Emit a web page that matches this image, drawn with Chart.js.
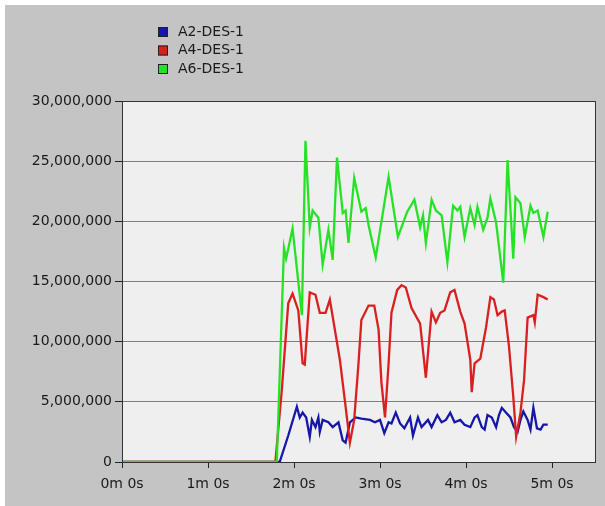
<!DOCTYPE html>
<html>
<head>
<meta charset="utf-8">
<script src="https://cdn.jsdelivr.net/npm/chart.js@4/dist/chart.umd.min.js"></script>
<style>
  html, body { margin: 0; padding: 0; background: #fff; }
  #wrap { width: 605px; height: 506px; }
</style>
</head>
<body>
<div id="wrap"><canvas id="chart" width="605" height="506"></canvas></div>
<script>
// series names
const seriesNames = ['A2-DES-1', 'A4-DES-1', 'A6-DES-1'];

// time in seconds
const a2Time = [0, 110, 116, 122, 124, 126, 128.5, 131, 132.5, 135, 137, 138, 140, 144, 147, 151, 154, 156, 159, 163, 167, 173, 176.5, 180, 183, 186, 188, 191, 194, 197, 201, 203, 206.5, 209, 213.5, 216, 220, 223, 226, 229, 232, 236, 239, 243, 246, 248, 251, 253, 255, 258, 261, 263, 265, 268, 271, 273.5, 276, 278, 280, 283, 285, 287, 289.5, 292, 294, 297];
const a2Vals = [0, 0, 2200000, 4600000, 3700000, 4100000, 3700000, 2100000, 3500000, 2900000, 3700000, 2500000, 3500000, 3300000, 2900000, 3300000, 1800000, 1600000, 3300000, 3700000, 3600000, 3500000, 3300000, 3500000, 2400000, 3300000, 3200000, 4100000, 3200000, 2800000, 3700000, 2200000, 3700000, 2900000, 3500000, 2900000, 3900000, 3300000, 3500000, 4100000, 3300000, 3500000, 3100000, 2900000, 3700000, 3900000, 2900000, 2700000, 3900000, 3700000, 2900000, 3900000, 4500000, 4100000, 3700000, 2900000, 2500000, 3500000, 4200000, 3500000, 2700000, 4500000, 2800000, 2700000, 3100000, 3100000];

const a4Time = [0, 107, 111.5, 116, 119, 123, 126, 127.5, 131, 135, 138, 142, 145, 152, 156, 159, 162, 165, 167, 172, 176, 179, 181, 183.5, 186, 188, 192, 195, 198, 202, 208, 212, 216, 219, 222, 225, 229, 232, 236, 239, 243, 244, 246, 250, 254, 257, 259.5, 262, 265, 267, 270, 273, 275, 278, 280.5, 283, 287, 288, 290, 294, 297];
const a4Vals = [0, 0, 6000000, 13200000, 14000000, 12600000, 8200000, 8100000, 14100000, 13900000, 12400000, 12400000, 13500000, 8500000, 4600000, 1600000, 3500000, 8200000, 11800000, 13000000, 13000000, 11000000, 6600000, 3700000, 8200000, 12400000, 14300000, 14700000, 14500000, 12800000, 11500000, 7000000, 12500000, 11600000, 12400000, 12600000, 14100000, 14300000, 12500000, 11500000, 8500000, 5800000, 8200000, 8600000, 11200000, 13700000, 13500000, 12200000, 12500000, 12600000, 9600000, 5400000, 2100000, 4100000, 6800000, 12000000, 12200000, 11600000, 13900000, 13700000, 13500000];

const a6Time = [0, 108, 113, 114.5, 119, 125.5, 128, 131, 133, 137, 140, 144, 147, 150, 154, 156, 158, 162, 167, 170, 172, 177, 186, 192.5, 199, 204, 208, 210, 212, 216, 219, 223, 227, 231, 234, 236, 239, 243, 246, 248, 252, 255, 257, 261, 266, 269, 273, 274.5, 278, 281, 285, 287, 290, 294, 297];
const a6Vals = [0, 0, 17800000, 16900000, 19400000, 12200000, 26700000, 19500000, 20900000, 20300000, 16400000, 19300000, 16800000, 25300000, 20700000, 20900000, 18200000, 23600000, 20800000, 21100000, 19700000, 17000000, 23700000, 18700000, 20800000, 21800000, 19500000, 20500000, 18200000, 21800000, 20900000, 20500000, 16600000, 21300000, 20900000, 21200000, 18700000, 21100000, 19700000, 21200000, 19300000, 20300000, 21900000, 19900000, 14900000, 25100000, 16900000, 22000000, 21500000, 18700000, 21300000, 20700000, 20900000, 18700000, 20800000];

const xTickLabels = ['0m 0s', '1m 0s', '2m 0s', '3m 0s', '4m 0s', '5m 0s'];
const yTickLabels = ['0', '5,000,000', '10,000,000', '15,000,000', '20,000,000', '25,000,000', '30,000,000'];

const colors = ['#1616a8', '#d82020', '#26e226'];
const FONT = '"DejaVu Sans", Verdana, sans-serif';

function toPoints(t, v) {
  return t.map((s, i) => ({ x: s, y: v[i] }));
}

const bgPlugin = {
  id: 'bg',
  beforeDraw(chart) {
    const ctx = chart.ctx;
    const a = chart.chartArea;
    ctx.save();
    ctx.fillStyle = '#ffffff';
    ctx.fillRect(0, 0, chart.width, chart.height);
    ctx.fillStyle = '#c4c4c4';
    ctx.fillRect(5, 5, chart.width - 5, chart.height - 5);
    ctx.fillStyle = '#efefef';
    ctx.fillRect(a.left, a.top, a.right - a.left, a.bottom - a.top);
    ctx.restore();
  },
  afterDraw(chart) {
    const ctx = chart.ctx;
    const a = chart.chartArea;
    ctx.save();
    ctx.strokeStyle = '#333';
    ctx.lineWidth = 1;
    ctx.strokeRect(a.left + 0.5, a.top + 0.5, a.right - a.left, a.bottom - a.top);
    // legend, in series order
    ctx.font = '14px ' + FONT;
    ctx.textBaseline = 'middle';
    seriesNames.forEach((name, i) => {
      const y = 32 + i * 18.5;
      ctx.fillStyle = colors[i];
      ctx.fillRect(158, y - 5, 10, 10);
      ctx.strokeStyle = '#222';
      ctx.strokeRect(158.5, y - 4.5, 9, 9);
      ctx.fillStyle = '#1a1a1a';
      ctx.fillText(name, 178, y);
    });
    ctx.restore();
  }
};

// green drawn on top, blue at the bottom
new Chart(document.getElementById('chart'), {
  type: 'line',
  data: {
    datasets: [
      { label: seriesNames[2], data: toPoints(a6Time, a6Vals), borderColor: colors[2] },
      { label: seriesNames[1], data: toPoints(a4Time, a4Vals), borderColor: colors[1] },
      { label: seriesNames[0], data: toPoints(a2Time, a2Vals), borderColor: colors[0] }
    ]
  },
  options: {
    responsive: false,
    animation: false,
    parsing: false,
    layout: { padding: { left: 5, right: 10, top: 101, bottom: 0 } },
    elements: {
      point: { radius: 0 },
      line: { borderWidth: 2.3, tension: 0 }
    },
    plugins: {
      legend: { display: false },
      tooltip: { enabled: false }
    },
    scales: {
      x: {
        type: 'linear',
        min: 0,
        max: 330,
        afterBuildTicks: s => { s.ticks = s.ticks.filter(t => t.value % 60 === 0); },
        afterFit: s => { s.height = 44; },
        ticks: {
          stepSize: 60,
          color: '#1a1a1a',
          padding: 8,
          maxRotation: 0,
          font: { family: FONT, size: 14 },
          callback: v => xTickLabels[v / 60]
        },
        grid: { drawOnChartArea: false, tickLength: 6, tickColor: '#222' },
        border: { color: '#222' }
      },
      y: {
        min: 0,
        max: 30000000,
        afterFit: s => { s.width = 117; },
        ticks: {
          stepSize: 5000000,
          color: '#1a1a1a',
          padding: 3,
          font: { family: FONT, size: 14 },
          callback: v => yTickLabels[v / 5000000]
        },
        grid: { color: '#808080', tickLength: 7, tickColor: '#222' },
        border: { color: '#222' }
      }
    }
  },
  plugins: [bgPlugin]
});
</script>
</body>
</html>
